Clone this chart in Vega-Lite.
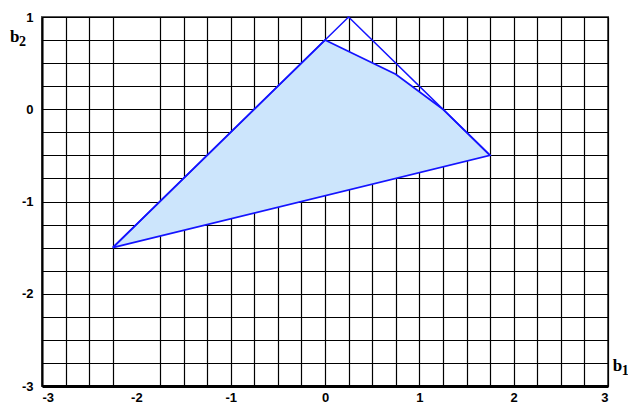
{
  "$schema": "https://vega.github.io/schema/vega-lite/v6.json",
  "width": 566,
  "height": 369,
  "autosize": {"type": "none"},
  "padding": {"left": 42, "top": 17, "right": 20, "bottom": 22},
  "background": "white",
  "config": {
    "font": "Liberation Sans",
    "view": {"stroke": "#555555", "strokeWidth": 2},
    "style": {"guide-label": {"fontSize": 13, "fontWeight": "bold", "font": "Liberation Sans", "fill": "#000000"}},
    "axis": {
      "grid": true,
      "gridColor": "#000000",
      "gridOpacity": 1,
      "gridWidth": 1.2,
      "ticks": false,
      "domainColor": "#000000",
      "labelColor": "#000000",
      "labelOverlap": false,
      "title": null
    }
  },
  "datasets": {
    "region": [
      {"i": 0, "b1": -2.25, "b2": -1.5},
      {"i": 1, "b1": 0, "b2": 0.75},
      {"i": 2, "b1": 0.75, "b2": 0.38},
      {"i": 3, "b1": 1.25, "b2": 0},
      {"i": 4, "b1": 1.75, "b2": -0.5},
      {"i": 5, "b1": -2.25, "b2": -1.5}
    ],
    "hull": [
      {"i": 0, "b1": -2.25, "b2": -1.5},
      {"i": 1, "b1": 0.25, "b2": 1},
      {"i": 2, "b1": 1.75, "b2": -0.5}
    ],
    "letters": [
      {"i": 0, "b1": -3.34, "b2": 0.73, "t": "b"},
      {"i": 0, "b1": 3.05, "b2": -2.84, "t": "b"}
    ],
    "subscripts": [
      {"i": 0, "b1": -3.34, "b2": 0.73, "t": "2"},
      {"i": 0, "b1": 3.05, "b2": -2.84, "t": "1"}
    ]
  },
  "encoding": {
    "x": {
      "field": "b1", "type": "quantitative",
      "scale": {"domain": [-3, 3], "nice": false, "zero": false},
      "axis": {
        "values": [-3, -2.75, -2.5, -2.25, -2, -1.75, -1.5, -1.25, -1, -0.75, -0.5, -0.25, 0, 0.25, 0.5, 0.75, 1, 1.25, 1.5, 1.75, 2, 2.25, 2.5, 2.75, 3],
        "labelExpr": "datum.value % 1 == 0 ? '' + datum.value : ''",
        "labelFont": "Liberation Sans",
        "labelFontWeight": "bold",
        "labelFontSize": 13,
        "labelPadding": 5,
        "domainWidth": 3,
        "gridOpacity": {"condition": {"test": "datum.value == -2", "value": 0}, "value": 1}
      }
    },
    "y": {
      "field": "b2", "type": "quantitative",
      "scale": {"domain": [-3, 1], "nice": false, "zero": false},
      "axis": {
        "values": [-3, -2.75, -2.5, -2.25, -2, -1.75, -1.5, -1.25, -1, -0.75, -0.5, -0.25, 0, 0.25, 0.5, 0.75, 1],
        "labelExpr": "datum.value % 1 == 0 ? '' + datum.value : ''",
        "labelFont": "Liberation Sans",
        "labelFontWeight": "bold",
        "labelFontSize": 13,
        "labelPadding": 9,
        "domainWidth": 2
      }
    },
    "order": {"field": "i"}
  },
  "layer": [
    {
      "data": {"name": "region"},
      "mark": {"type": "line", "fill": "#cce5fc", "stroke": "#1414ff", "strokeWidth": 1.7, "strokeJoin": "miter"}
    },
    {
      "data": {"name": "hull"},
      "mark": {"type": "line", "stroke": "#1414ff", "strokeWidth": 1.5}
    },
    {
      "data": {"name": "letters"},
      "mark": {"type": "text", "font": "Liberation Serif", "fontWeight": "bold", "fontSize": 17, "align": "left", "baseline": "alphabetic"},
      "encoding": {"text": {"field": "t"}}
    },
    {
      "data": {"name": "subscripts"},
      "mark": {"type": "text", "font": "Liberation Serif", "fontWeight": "bold", "fontSize": 14, "align": "left", "baseline": "alphabetic", "dx": 9, "dy": 4},
      "encoding": {"text": {"field": "t"}}
    }
  ]
}
